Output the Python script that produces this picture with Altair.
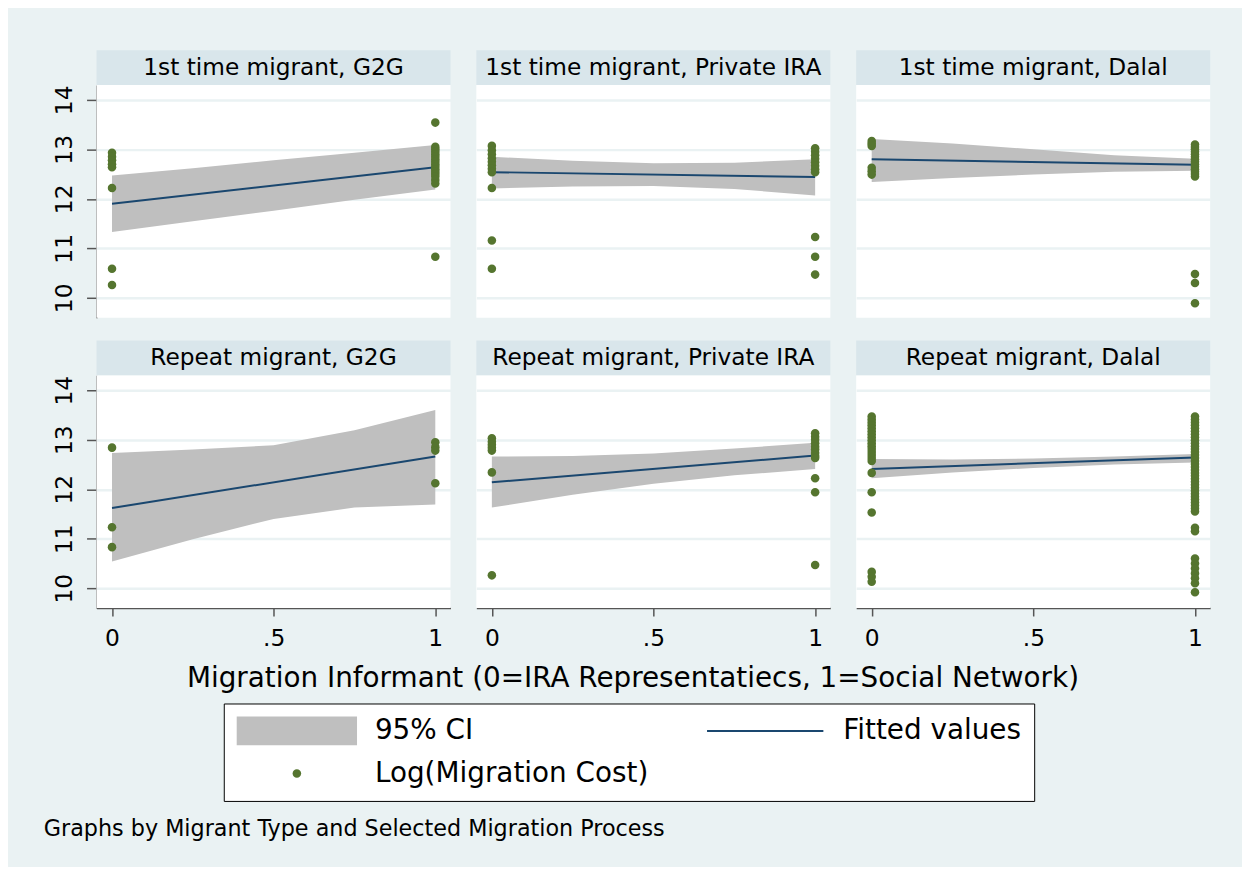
import altair as alt
import pandas as pd

MIGRANTS = ["1st time migrant", "Repeat migrant"]
PROCESSES = ["G2G", "Private IRA", "Dalal"]
X_TICKS = [0, 0.5, 1]
Y_TICKS = [10, 11, 12, 13, 14]
X_TITLE = "Migration Informant (0=IRA Representatiecs, 1=Social Network)"
NOTE = "Graphs by Migrant Type and Selected Migration Process"
# legend entries, listed column by column (CI and points in the first column)
LEGEND = ["95% CI", "Log(Migration Cost)", "Fitted values"]

# panels in row-major order: (migrant, process)
PANELS = [(m, p) for m in MIGRANTS for p in PROCESSES]

# observed log cost at informant = 0
PTS_X0 = [
    [12.93, 12.85, 12.78, 12.70, 12.64, 12.22, 10.59, 10.26],
    [13.07, 12.98, 12.90, 12.82, 12.75, 12.68, 12.61, 12.54, 12.22, 11.16, 10.59],
    [13.17, 13.12, 13.07, 12.63, 12.56, 12.49],
    [12.84, 11.23, 10.83],
    [13.03, 12.96, 12.90, 12.84, 12.78, 12.34, 10.26],
    [13.47, 13.41, 13.35, 13.29, 13.23, 13.17, 13.11, 13.05, 12.99, 12.93, 12.87,
     12.81, 12.75, 12.69, 12.63, 12.57, 12.33, 11.94, 11.53, 10.33, 10.23, 10.13],
]
# observed log cost at informant = 1
PTS_X1 = [
    [13.54, 13.05, 13.00, 12.95, 12.90, 12.85, 12.80, 12.75, 12.70, 12.65, 12.60,
     12.55, 12.50, 12.45, 12.38, 12.31, 10.83],
    [13.02, 12.95, 12.88, 12.81, 12.74, 12.67, 12.60, 12.54, 11.23, 10.83, 10.47],
    [13.10, 13.05, 13.00, 12.95, 12.90, 12.85, 12.80, 12.75, 12.70, 12.65, 12.60,
     12.55, 12.50, 12.45, 10.48, 10.30, 9.89],
    [12.95, 12.85, 12.78, 12.12],
    [13.13, 13.06, 13.00, 12.93, 12.86, 12.80, 12.73, 12.67, 12.63, 12.22, 11.94, 10.47],
    [13.47, 13.41, 13.35, 13.29, 13.23, 13.17, 13.11, 13.05, 12.99, 12.93, 12.87,
     12.81, 12.75, 12.69, 12.63, 12.57, 12.51, 12.45, 12.39, 12.33, 12.27, 12.21,
     12.15, 12.09, 12.03, 11.97, 11.91, 11.85, 11.79, 11.73, 11.67, 11.61, 11.55,
     11.22, 11.15, 10.60, 10.50, 10.40, 10.30, 10.20, 10.10, 9.92],
]
# fitted values at informant = 0 and 1
FIT_X0 = [11.90, 12.54, 12.80, 11.62, 12.14, 12.41]
FIT_X1 = [12.64, 12.44, 12.69, 12.66, 12.68, 12.64]

# 95% CI band
CI_X = [0, 0.25, 0.5, 0.75, 1]
CI_LO = [
    [11.33, 11.55, 11.76, 11.98, 12.19],
    [12.21, 12.25, 12.26, 12.20, 12.07],
    [12.34, 12.42, 12.49, 12.55, 12.57],
    [10.54, 10.99, 11.40, 11.63, 11.69],
    [11.63, 11.89, 12.11, 12.28, 12.41],
    [12.22, 12.34, 12.43, 12.50, 12.54],
]
CI_HI = [
    [12.47, 12.62, 12.78, 12.93, 13.09],
    [12.85, 12.77, 12.72, 12.73, 12.80],
    [13.21, 13.12, 13.00, 12.88, 12.81],
    [12.73, 12.80, 12.89, 13.19, 13.60],
    [12.66, 12.67, 12.72, 12.82, 12.94],
    [12.61, 12.60, 12.62, 12.66, 12.71],
]

# ---- build long table ----
rows = []
for i, (m, p) in enumerate(PANELS):
    base = {"migrant": m, "process": p, "title": f"{m}, {p}"}
    for v in PTS_X0[i]:
        rows.append({**base, "kind": "pt", "x": 0, "y": v, "series": "Log(Migration Cost)"})
    for v in PTS_X1[i]:
        rows.append({**base, "kind": "pt", "x": 1, "y": v, "series": "Log(Migration Cost)"})
    rows.append({**base, "kind": "fit", "x": 0, "fit": FIT_X0[i]})
    rows.append({**base, "kind": "fit", "x": 1, "fit": FIT_X1[i]})
    for xv, lo, hi in zip(CI_X, CI_LO[i], CI_HI[i]):
        rows.append({**base, "kind": "ci", "x": xv, "lo": lo, "hi": hi})
    rows.append({**base, "kind": "strip"})
df = pd.DataFrame(rows)

BG = "#EAF2F3"
STRIP = "#D9E6EB"
CI_COL = "#BFBFBF"
FIT_COL = "#1A476F"
PT_COL = "#55752F"
AX_COL = "#555555"
FONT = "DejaVu Sans"
W, H = 356, 234

xs = alt.Scale(domain=[-0.048, 1.047], nice=False, zero=False)
ys = alt.Scale(domain=[9.6, 14.3], nice=False, zero=False)

x_axis = alt.Axis(values=X_TICKS,
                  labelExpr="datum.value == 0.5 ? '.5' : format(datum.value, 'd')",
                  title=None, grid=False, tickSize=8, labelPadding=11)
y_axis = alt.Axis(values=Y_TICKS, title=None, grid=True, labelAngle=270, tickSize=10,
                  labelPadding=10)

legend_kw = dict(orient="none", legendX=128, legendY=622, columns=2, title=None,
                 labelFont=FONT, labelFontSize=28, labelColor="black", labelLimit=600,
                 symbolSize=841, symbolStrokeWidth=0, symbolOffset=46, labelOffset=64,
                 columnPadding=56, rowPadding=14, padding=13, strokeColor="black",
                 fillColor="white", cornerRadius=0)

# legend / marker glyphs (unit box scaled by the symbol size)
RECT_PATH = "M-4.172,-1H4.172V1H-4.172Z"
LINE_PATH = "M-4.034,-0.069H4.034V0.069H-4.034Z"
DOT_PATH = "M-0.2966,0A0.2966,0.2966,0,1,0,0.2966,0A0.2966,0.2966,0,1,0,-0.2966,0Z"

area = alt.Chart().mark_area(color=CI_COL, opacity=1).encode(
    x=alt.X("x:Q", scale=xs, axis=x_axis),
    y=alt.Y("lo:Q", scale=ys, axis=y_axis),
    y2="hi:Q",
).transform_filter(alt.datum.kind == "ci")

line = alt.Chart().mark_line(color=FIT_COL, strokeWidth=2).encode(
    x=alt.X("x:Q", scale=xs, axis=x_axis),
    y=alt.Y("fit:Q", scale=ys, axis=y_axis),
).transform_filter(alt.datum.kind == "fit")

pts = alt.Chart().mark_point(filled=True, size=841, opacity=1, strokeWidth=0).encode(
    x=alt.X("x:Q", scale=xs, axis=x_axis),
    y=alt.Y("y:Q", scale=ys, axis=y_axis),
    color=alt.Color("series:N", scale=alt.Scale(domain=LEGEND, range=[CI_COL, PT_COL, FIT_COL]),
                    legend=alt.Legend(**legend_kw)),
    shape=alt.Shape("series:N", scale=alt.Scale(domain=LEGEND, range=[RECT_PATH, DOT_PATH, LINE_PATH]),
                    legend=alt.Legend(**legend_kw)),
).transform_filter(alt.datum.kind == "pt")

strip = alt.Chart().mark_rect(color=STRIP).encode(
    x=alt.value(0), x2=alt.value(W), y=alt.value(-35), y2=alt.value(0)
).transform_filter(alt.datum.kind == "strip")

strip_text = alt.Chart().mark_text(font=FONT, fontSize=23.4, color="black",
                                   baseline="middle", align="center").encode(
    x=alt.value(W / 2), y=alt.value(-17.5), text="title:N"
).transform_filter(alt.datum.kind == "strip")

layered = alt.layer(area, line, pts, strip, strip_text, data=df).properties(width=W, height=H)

chart = layered.facet(
    row=alt.Row("migrant:N", sort=MIGRANTS, title=None, header=alt.Header(labels=False)),
    column=alt.Column("process:N", sort=PROCESSES,
                      header=alt.Header(labels=False, title=X_TITLE + "\u2800" * 2,
                                        titleOrient="bottom",
                                        titleFont=FONT, titleFontSize=28,
                                        titleFontWeight="normal", titleColor="black",
                                        titlePadding=4)),
    spacing={"row": 23, "column": 26},
).properties(
    title=alt.TitleParams(text=NOTE, orient="bottom", anchor="start", frame="bounds",
                          font=FONT, fontSize=22.4, fontWeight="normal", color="black",
                          offset=17, dx=-9),
    padding={"left": 35, "top": 40, "right": 32, "bottom": 24},
    background=BG,
).configure_view(
    fill="white", strokeWidth=0
).configure_axis(
    labelFont=FONT, labelFontSize=23.5, labelColor="black",
    domainColor=AX_COL, domainWidth=1.5, tickColor=AX_COL, tickWidth=1.5,
    gridColor=BG, gridWidth=2.5,
)

chart.save("out.html", embed_options={"renderer": "svg", "actions": False})
